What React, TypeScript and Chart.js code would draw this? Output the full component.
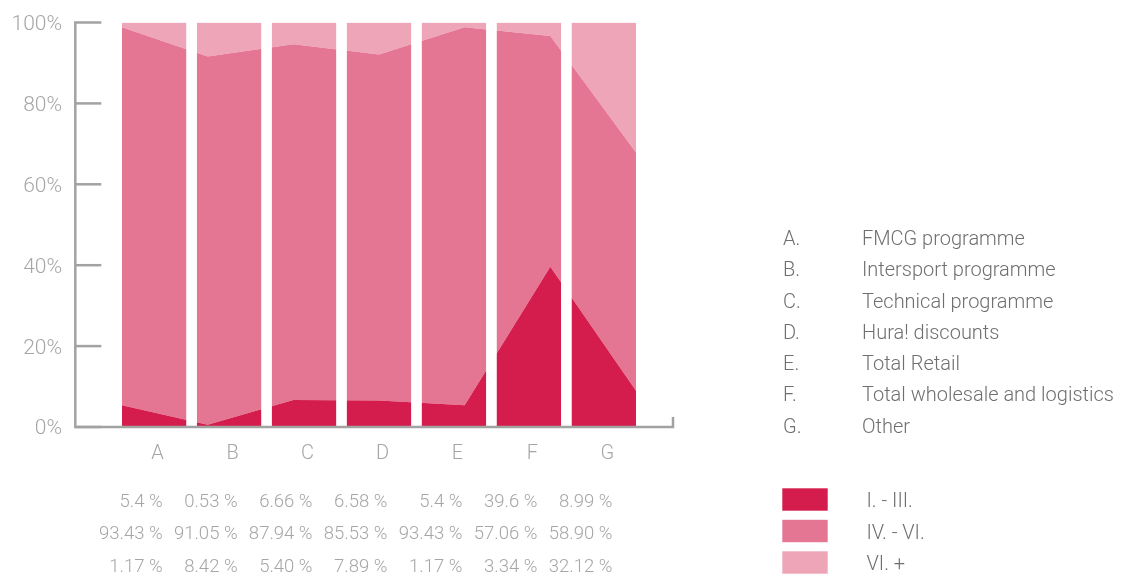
import { useEffect, useRef } from 'react';
import { Chart, registerables } from 'chart.js';

Chart.register(...registerables);

// Business lines, in the order of the panels
const categories = ['A', 'B', 'C', 'D', 'E', 'F', 'G'];
const categoryNames = [
  'FMCG programme',
  'Intersport programme',
  'Technical programme',
  'Hura! discounts',
  'Total Retail',
  'Total wholesale and logistics',
  'Other',
];

// Share bands (percent of each business line), as printed in the table
const bandNames = ['I. - III.', 'IV. - VI.', 'VI. +'];
const lowBand = ['5.4', '0.53', '6.66', '6.58', '5.4', '39.6', '8.99'];
const midBand = ['93.43', '91.05', '87.94', '85.53', '93.43', '57.06', '58.90'];
const highBand = ['1.17', '8.42', '5.40', '7.89', '1.17', '3.34', '32.12'];

const yTicks = [0, 20, 40, 60, 80, 100];

const bands = [lowBand, midBand, highBand];
const bandColors = ['#D41D4D', '#E47694', '#EEA5B7'];

const WIDTH = 1127;
const HEIGHT = 574;

// panel geometry along the x scale (points sit at 0..6)
const PANEL_STEP = 0.875;
const PANEL_WIDTH = 0.75;
const X_MIN = -0.545;
const X_MAX = 6.432;

const FAMILY = 'Roboto, "Liberation Sans", Arial, sans-serif';
const AXIS_COLOR = '#A2A2A2';
const LABEL_COLOR = '#A6A6A6';
const LEGEND_COLOR = '#6F6F6F';

function font(size: number) {
  return `300 ${size}px ${FAMILY}`;
}

function drawText(
  ctx: CanvasRenderingContext2D,
  s: string,
  x: number,
  baseline: number,
  size: number,
  color: string,
  align: CanvasTextAlign,
) {
  ctx.font = font(size);
  ctx.fillStyle = color;
  ctx.textAlign = align;
  ctx.textBaseline = 'alphabetic';
  ctx.fillText(s, x, baseline);
}

const panelsAndFrame = {
  id: 'panelsAndFrame',
  afterDatasetsDraw(chart: any) {
    const { ctx, chartArea, scales } = chart;
    const x = scales.x;
    ctx.save();
    // white separators between the category panels
    ctx.fillStyle = '#FFFFFF';
    for (let k = 1; k < categories.length; k++) {
      const l = x.getPixelForValue(k * PANEL_STEP - (PANEL_STEP - PANEL_WIDTH));
      const r = x.getPixelForValue(k * PANEL_STEP);
      ctx.fillRect(l, chartArea.top - 2, r - l, chartArea.bottom - chartArea.top + 2);
    }
    ctx.restore();
  },
  afterDraw(chart: any) {
    const { ctx, chartArea, scales } = chart;
    const x = scales.x;
    const y = scales.y;
    const left = chartArea.left;
    const right = chartArea.right;
    const y0 = y.getPixelForValue(0);
    const yTop = y.getPixelForValue(100);

    ctx.save();
    // axis frame
    ctx.strokeStyle = AXIS_COLOR;
    ctx.lineWidth = 2.5;
    ctx.lineJoin = 'miter';
    ctx.lineCap = 'butt';
    ctx.beginPath();
    ctx.moveTo(left + 26, yTop);
    ctx.lineTo(left, yTop);
    ctx.lineTo(left, y0);
    ctx.lineTo(right, y0);
    ctx.lineTo(right, y0 - 10);
    ctx.stroke();
    for (const v of yTicks) {
      if (v === 100) continue;
      const py = y.getPixelForValue(v);
      ctx.beginPath();
      ctx.moveTo(left, py);
      ctx.lineTo(left + 26, py);
      ctx.stroke();
    }

    // y tick labels
    for (const v of yTicks) {
      const py = y.getPixelForValue(v);
      drawText(ctx, `${v}%`, 62, py + 7.4, 21, LABEL_COLOR, 'right');
    }

    // category letters and the share table below each panel
    categories.forEach((c, i) => {
      const cx = x.getPixelForValue(i * PANEL_STEP + PANEL_WIDTH / 2);
      drawText(ctx, c, cx + 3.5, 459.3, 20, LABEL_COLOR, 'center');
      bands.forEach((band, b) => {
        drawText(ctx, `${band[i]} %`, cx + 8.5, 506.7 + b * 32.5, 18.5, LABEL_COLOR, 'right');
      });
    });

    // category legend
    categories.forEach((c, i) => {
      const base = 245 + i * 31.25;
      drawText(ctx, `${c}.`, 783, base, 20, LEGEND_COLOR, 'left');
      drawText(ctx, categoryNames[i], 862, base, 20, LEGEND_COLOR, 'left');
    });

    // band legend
    bandNames.forEach((name, i) => {
      const top = 488.3 + i * 31.5;
      ctx.fillStyle = bandColors[i];
      ctx.fillRect(782.3, top, 45.4, 22.4);
      drawText(ctx, name, 866.5, top + 11.2 + 7.5, 20, LEGEND_COLOR, 'left');
    });
    ctx.restore();
  },
};

export default function App() {
  const canvasRef = useRef<HTMLCanvasElement | null>(null);

  useEffect(() => {
    const canvas = canvasRef.current;
    if (!canvas) return;
    const chart = new Chart(canvas, {
      type: 'line',
      data: {
        datasets: bands.map((band, i) => ({
          label: bandNames[i],
          data: band.map((v, j) => ({ x: j, y: Number(v) })),
          backgroundColor: bandColors[i],
          borderColor: 'transparent',
          borderWidth: 0,
          pointRadius: 0,
          pointHoverRadius: 0,
          tension: 0,
          fill: i === 0 ? 'origin' : '-1',
        })),
      },
      options: {
        responsive: false,
        animation: false,
        events: [],
        layout: {
          padding: { left: 75.3, right: WIDTH - 673, top: 22.5, bottom: HEIGHT - 427 },
        },
        scales: {
          x: { type: 'linear', min: X_MIN, max: X_MAX, display: false },
          y: { stacked: true, min: 0, max: 100, display: false },
        },
        plugins: {
          legend: { display: false },
          tooltip: { enabled: false },
        },
      },
      plugins: [panelsAndFrame],
    });
    return () => chart.destroy();
  }, []);

  return (
    <canvas
      ref={canvasRef}
      width={WIDTH}
      height={HEIGHT}
      style={{ position: 'fixed', left: 0, top: 0, width: WIDTH, height: HEIGHT }}
    />
  );
}
